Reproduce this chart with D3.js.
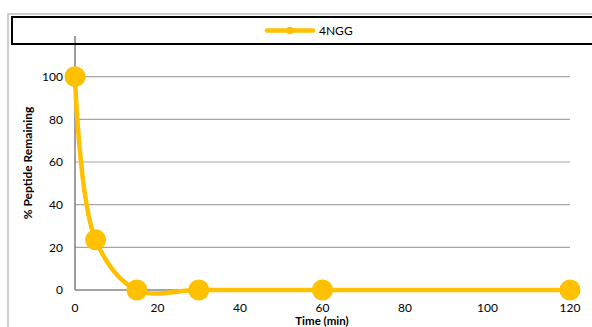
<!DOCTYPE html>
<html>
<head>
<meta charset="utf-8">
<script src="https://cdn.jsdelivr.net/npm/d3@7"></script>
<style>
  html, body { margin: 0; padding: 0; background: #fff; }
  svg { display: block; }
  text { font-family: Lato, "Liberation Sans", sans-serif; }
</style>
</head>
<body>
<svg id="chart" width="592" height="327"></svg>
<script>
const seriesName = "4NGG";
const timeMin = [0, 5, 15, 30, 60, 120];
const peptideRemaining = [100, 23.5, 0, 0, 0, 0];
const xTicks = [0, 20, 40, 60, 80, 100, 120];
const yTicks = [0, 20, 40, 60, 80, 100];
const xTitle = "Time (min)";
const yTitle = "% Peptide Remaining";

const color = "#FFC000";
const svg = d3.select("#chart");

// outer chart border
svg.append("rect").attr("x", 8).attr("y", 14).attr("width", 600).attr("height", 330)
  .attr("fill", "#fff").attr("stroke", "#bfbfbf").attr("stroke-width", 1.5);

const x = d3.scaleLinear().domain([0, 120]).range([75, 570]);
const y = d3.scaleLinear().domain([0, 100]).range([290, 76.7]);

// gridlines
svg.append("g").selectAll("line").data(yTicks.filter(d => d > 0)).join("line")
  .attr("x1", x(0)).attr("x2", x(120))
  .attr("y1", d => y(d)).attr("y2", d => y(d))
  .attr("stroke", "#a6a6a6").attr("stroke-width", 1.2);

// axes lines
svg.append("line").attr("x1", x(0)).attr("x2", x(0)).attr("y1", 36).attr("y2", y(0))
  .attr("stroke", "#868686").attr("stroke-width", 1.6);
svg.append("line").attr("x1", x(0)).attr("x2", x(120)).attr("y1", y(0)).attr("y2", y(0))
  .attr("stroke", "#868686").attr("stroke-width", 1.6);

// y tick labels
svg.append("g").selectAll("text").data(yTicks).join("text")
  .attr("x", 63).attr("y", d => y(d)).attr("dy", "0.35em")
  .attr("text-anchor", "end").attr("font-size", 12).attr("fill", "#000")
  .text(d => d);

// x tick labels
svg.append("g").selectAll("text").data(xTicks).join("text")
  .attr("x", d => x(d)).attr("y", 312)
  .attr("text-anchor", "middle").attr("font-size", 12).attr("fill", "#000")
  .text(d => d);

// axis titles
svg.append("text").attr("x", 322).attr("y", 324.5).attr("text-anchor", "middle")
  .attr("font-size", 11.5).attr("font-weight", "bold").text(xTitle);
svg.append("text").attr("transform", "translate(32,163) rotate(-90)")
  .attr("text-anchor", "middle").attr("font-size", 12).attr("font-weight", "bold").text(yTitle);

// data line
const pts = timeMin.map((t, i) => [t, peptideRemaining[i]]);
const line = d3.line().x(d => x(d[0])).y(d => y(d[1])).curve(d3.curveCatmullRom.alpha(0.5));
svg.append("path").datum(pts).attr("d", line)
  .attr("fill", "none").attr("stroke", color).attr("stroke-width", 4.5)
  .attr("stroke-linecap", "round").attr("stroke-linejoin", "round");
svg.append("g").selectAll("circle").data(pts).join("circle")
  .attr("cx", d => x(d[0])).attr("cy", d => y(d[1])).attr("r", 10.5).attr("fill", color);

// legend box
svg.append("rect").attr("x", 12).attr("y", 17).attr("width", 600).attr("height", 27)
  .attr("fill", "none").attr("stroke", "#000").attr("stroke-width", 2);
svg.append("line").attr("x1", 267).attr("x2", 313).attr("y1", 30.5).attr("y2", 30.5)
  .attr("stroke", color).attr("stroke-width", 4.5).attr("stroke-linecap", "round");
svg.append("circle").attr("cx", 290).attr("cy", 30.5).attr("r", 3.8).attr("fill", color);
svg.append("text").attr("x", 319).attr("y", 30.5).attr("dy", "0.35em")
  .attr("font-size", 12).attr("fill", "#000").text(seriesName);
</script>
</body>
</html>
